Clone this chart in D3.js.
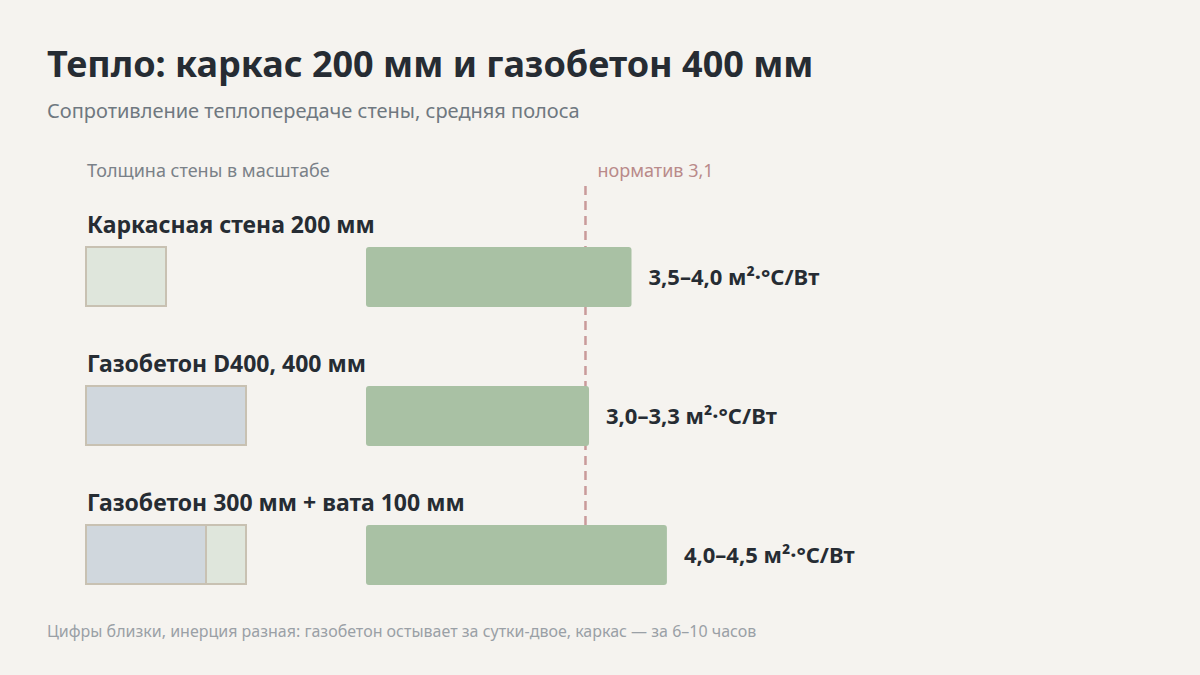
<!DOCTYPE html>
<html><head><meta charset="utf-8">
<script src="https://cdn.jsdelivr.net/npm/d3@7"></script>
<style>
body{margin:0;background:#f5f3ef;}
svg{font-family:"Noto Sans","Open Sans",sans-serif;}
</style></head>
<body><svg id="c" width="1200" height="675"></svg>
<script>
const categories = ["Каркасная стена 200 мм", "Газобетон D400, 400 мм", "Газобетон 300 мм + вата 100 мм"];
const rLow = [3.5, 3.0, 4.0];
const rHigh = [4.0, 3.3, 4.5];
const valueLabels = ["3,5–4,0 м²·°C/Вт", "3,0–3,3 м²·°C/Вт", "4,0–4,5 м²·°C/Вт"];
// wall layers, mm: [material, thickness]
const layers = [[["вата", 200]], [["газобетон", 400]], [["газобетон", 300], ["вата", 100]]];
const norm = 3.1;

const svg = d3.select("#c");
const x = d3.scaleLinear().domain([0, 5]).range([366, 720]);
const t = d3.scaleLinear().domain([0, 400]).range([0, 160]);
const y = d3.scaleBand().domain(categories).range([207, 624]).paddingInner(0);
const fill = {"вата": "#dfe6dc", "газобетон": "#d0d7dd"};

svg.append("text").attr("x", 47).attr("y", 77).attr("font-size", 36).attr("font-weight", 700)
  .attr("fill", "#262c33").text("Тепло: каркас 200 мм и газобетон 400 мм");
svg.append("text").attr("x", 47).attr("y", 118).attr("font-size", 20).attr("fill", "#6f7880")
  .text("Сопротивление теплопередаче стены, средняя полоса");
svg.append("text").attr("x", 87).attr("y", 177).attr("font-size", 18).attr("fill", "#7a8188")
  .text("Толщина стены в масштабе");

svg.append("line").attr("x1", x(norm)).attr("x2", x(norm)).attr("y1", 186).attr("y2", 586)
  .attr("stroke", "#c99a9a").attr("stroke-width", 2.5).attr("stroke-dasharray", "9,6");
svg.append("text").attr("x", x(norm) + 12).attr("y", 177).attr("font-size", 18).attr("fill", "#b98a8a")
  .text("норматив 3,1");

categories.forEach((c, i) => {
  const y0 = y(c);
  const by = y0 + 40;
  svg.append("text").attr("x", 87).attr("y", y0 + 26).attr("font-size", 23).attr("font-weight", 700)
    .attr("fill", "#262c33").text(c);
  let acc = 0;
  layers[i].forEach(([m, w]) => {
    svg.append("rect").attr("x", 86 + t(acc)).attr("y", by).attr("width", t(w)).attr("height", 59)
      .attr("fill", fill[m]).attr("stroke", "#c8c1b2").attr("stroke-width", 2);
    acc += w;
  });
  const mid = (rLow[i] + rHigh[i]) / 2;
  svg.append("rect").attr("x", x(0)).attr("y", by).attr("width", x(mid) - x(0)).attr("height", 60)
    .attr("rx", 3).attr("fill", "#a9c1a4");
  svg.append("text").attr("x", x(mid) + 17).attr("y", by + 38).attr("font-size", 22).attr("font-weight", 700)
    .attr("fill", "#262c33").text(valueLabels[i]);
});

svg.append("text").attr("x", 47).attr("y", 637).attr("font-size", 16).attr("fill", "#9aa0a6")
  .text("Цифры близки, инерция разная: газобетон остывает за сутки-двое, каркас — за 6–10 часов");
</script></body></html>
